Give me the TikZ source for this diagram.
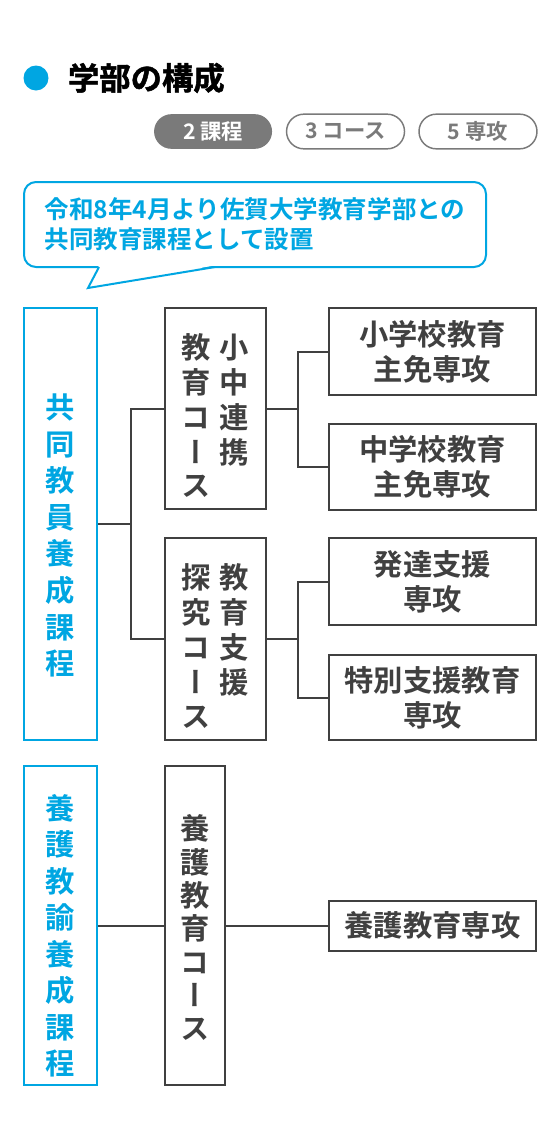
\documentclass[tikz,border=0pt]{standalone}
\usepackage{fontspec}
\setmainfont{Noto Sans CJK JP}[BoldFont={Noto Sans CJK JP Bold}]
\usetikzlibrary{positioning}
\definecolor{kblue}{HTML}{00A6E2}
\definecolor{kgray}{HTML}{404040}
\definecolor{pgray}{HTML}{7A7A7A}

\begin{document}
\begin{tikzpicture}[
    x=0.75pt, y=-0.75pt,
    line width=1.5pt,
    node distance=9.75pt,
    pill/.style = {rectangle, rounded corners=13pt, minimum width=88.5pt, minimum height=26pt, inner sep=0pt, line width=1.1pt, font=\fontsize{16}{18}\selectfont\bfseries},
    curri/.style = {rectangle, draw=kblue, text=kblue, align=center, minimum width=54.75pt, inner sep=0pt, font=\fontsize{22}{27.4}\selectfont\bfseries},
    course/.style = {rectangle, draw=kgray, text=kgray, align=center, inner sep=0pt, font=\fontsize{22}{25}\selectfont\bfseries\addfontfeature{RawFeature=+vert}},
    major/.style = {rectangle, draw=kgray, text=kgray, align=center, minimum width=155.25pt, inner sep=0pt, font=\fontsize{22}{26.25}\selectfont\bfseries},
    link/.style = {draw=kgray}
]
\useasboundingbox (0,0) rectangle (558,1125);

% Heading
\node[circle, fill=kblue, minimum size=18.75pt, inner sep=0pt] (dot) at (36,78) {};
\node[anchor=west, inner sep=0pt, font=\fontsize{23.5}{27}\selectfont\bfseries\addfontfeature{FakeBold=1.6}] (title) at (67,78) {学部の構成};

% Summary pills
\node[pill, draw=pgray, text=pgray] (p3) at (478,131.5) {5 専攻};
\node[pill, draw=pgray, text=pgray, left=of p3] (p2) {3 コース};
\node[pill, fill=pgray, text=white, left=of p2] (p1) {2 課程};

% Speech bubble
\node[draw=kblue, fill=white, rounded corners=9pt, minimum width=346.5pt, minimum height=63.75pt, align=left, text=kblue, font=\fontsize{18.4}{22.5}\selectfont\bfseries] (note) at (255,224.5) {令和8年4月より佐賀大学教育学部との\\共同教育課程として設置};
\coordinate (tailL) at (99,267);
\coordinate (tailR) at (215,267);
\coordinate (tip) at (88,288);
\fill[white] (99,265.4) -- (tip) -- (215,265.4) -- cycle;
\draw[kblue] (tailL) -- (tip) -- (tailR);

% Curricula
\node[curri, minimum height=324pt] (b1) at (60.5,524) {\rule{0pt}{36pt}共\\同\\教\\員\\養\\成\\課\\程};
\node[curri, minimum height=239.25pt] (b2) at (60.5,925.5) {\rule{0pt}{34pt}養\\護\\教\\諭\\養\\成\\課\\程};

% Courses
\node[course, minimum width=75.75pt, minimum height=150.75pt] (c1) at (215,408.5)
    {\begin{tabular}{@{}c@{\hspace{6.75pt}}c@{}}\rule{0pt}{36pt}教&小\\育&中\\コ&連\\ー&携\\ス&\end{tabular}};
\node[course, minimum width=75.75pt, minimum height=151.5pt] (c2) at (215,639)
    {\begin{tabular}{@{}c@{\hspace{6.75pt}}c@{}}\rule{0pt}{36pt}探&教\\究&育\\コ&支\\ー&援\\ス&\end{tabular}};
\node[course, minimum width=45pt, minimum height=239.25pt] (c3) at (195,925.5) {\rule{0pt}{22pt}養\\護\\教\\育\\コ\\ー\\ス};

% Majors
\node[major, minimum height=65.25pt] (m1) at (432.5,351.5) {小学校教育\\主免専攻};
\node[major, minimum height=64.5pt] (m2) at (432.5,467) {中学校教育\\主免専攻};
\node[major, minimum height=65.25pt] (m3) at (432.5,581.5) {発達支援\\専攻};
\node[major, minimum height=63.75pt] (m4) at (432.5,697.5) {特別支援教育\\専攻};
\node[major, minimum height=37.5pt] (m5) at (432.5,925.5) {養護教育専攻};

% Links
\coordinate (j1) at (131,524);
\coordinate (j2) at (298,408.5);
\coordinate (j3) at (298,639);
\draw[link] (b1.east) -- (j1);
\draw[link] (c1.west) -| (j1) |- (c2.west);
\draw[link] (c1.east) -- (j2);
\draw[link] (m1.west) -| (j2) |- (m2.west);
\draw[link] (c2.east) -- (j3);
\draw[link] (m3.west) -| (j3) |- (m4.west);
\draw[link] (b2.east) -- (c3.west);
\draw[link] (c3.east) -- (m5.west);

\end{tikzpicture}
\end{document}
